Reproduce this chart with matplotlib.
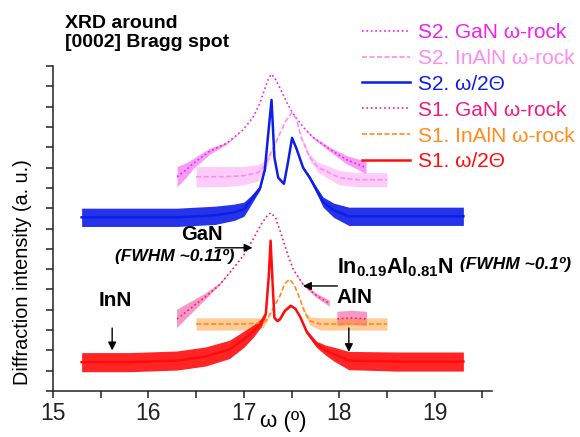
"""
XRD around the [0002] Bragg spot: omega/2theta scans and omega rocking curves
for two samples (S1, S2)
"""

import numpy as np
import matplotlib
matplotlib.use('Agg')
import matplotlib.pyplot as plt

plt.rcParams['font.family'] = ['Liberation Sans', 'DejaVu Sans']
plt.rcParams['mathtext.fontset'] = 'custom'
plt.rcParams['mathtext.rm'] = 'Liberation Sans'
plt.rcParams['mathtext.bf'] = 'Liberation Sans:bold'

# ── Data (intensity in arbitrary offset units) ──
# each trace: omega positions, mean level, half-width of the noise band

# S2  GaN omega-rock
s2_gan_x = [16.30, 16.40, 16.47, 16.64, 16.82, 16.99, 17.10, 17.17, 17.22, 17.26,
            17.29, 17.33, 17.38, 17.45, 17.51, 17.62, 17.72, 17.90, 18.07, 18.28]
s2_gan_y = [10.55, 10.90, 11.20, 11.80, 12.20, 12.85, 13.50, 14.20, 14.90, 15.40,
            15.60, 15.35, 14.90, 14.20, 13.70, 13.00, 12.50, 11.90, 11.40, 11.00]
s2_gan_n = [0.50, 0.35, 0.25, 0.15, 0.05, 0, 0, 0, 0, 0,
            0, 0, 0, 0, 0, 0, 0.05, 0.10, 0.20, 0.30]

# S2  InAlN omega-rock
s2_inaln_x = [16.50, 16.80, 17.00, 17.15, 17.22, 17.30, 17.38, 17.44, 17.50, 17.55,
              17.60, 17.69, 17.78, 17.87, 18.00, 18.20, 18.50]
s2_inaln_y = [10.55, 10.55, 10.60, 10.75, 11.10, 11.90, 12.70, 13.30, 13.70, 13.40,
              12.50, 11.50, 11.00, 10.80, 10.50, 10.40, 10.40]
s2_inaln_n = [0.50, 0.50, 0.45, 0.40, 0.25, 0.10, 0, 0, 0, 0,
              0.05, 0.15, 0.25, 0.30, 0.35, 0.35, 0.35]

# S2  omega/2theta
s2_w2t_x = [15.30, 15.80, 16.30, 16.70, 16.90, 17.00, 17.06, 17.13, 17.17, 17.22,
            17.25, 17.29, 17.32, 17.36, 17.42, 17.46, 17.505, 17.55, 17.62, 17.69,
            17.76, 17.83, 17.94, 18.10, 18.60, 19.30]
s2_w2t_y = [8.55, 8.55, 8.55, 8.65, 8.80, 8.95, 9.30, 9.75, 10.00, 10.90,
            12.40, 14.33, 11.50, 10.50, 10.20, 11.20, 12.46, 11.95, 11.00, 10.50,
            9.90, 9.30, 8.90, 8.60, 8.60, 8.60]
s2_w2t_n = [0.45, 0.45, 0.45, 0.45, 0.40, 0.35, 0.25, 0.15, 0.10, 0.05,
            0, 0, 0, 0, 0, 0, 0, 0, 0.05, 0.10,
            0.15, 0.25, 0.35, 0.45, 0.45, 0.45]

# S1  GaN omega-rock (two pieces)
s1_gan_x = [16.30, 16.45, 16.60, 16.75, 16.90, 17.00, 17.10, 17.18, 17.24, 17.28,
            17.33, 17.40, 17.46, 17.52, 17.62, 17.76, 17.90, np.nan, 17.98, 18.12, 18.29]
s1_gan_y = [3.55, 4.10, 4.65, 5.25, 6.10, 6.70, 7.50, 8.20, 8.60, 8.77,
            8.55, 7.60, 6.70, 5.96, 5.25, 4.70, 4.30, np.nan, 3.55, 3.60, 3.55]
s1_gan_n = [0.45, 0.30, 0.15, 0.05, 0, 0, 0, 0, 0, 0,
            0, 0, 0, 0, 0.05, 0.10, 0.15, np.nan, 0.35, 0.35, 0.35]

# S1  InAlN omega-rock
s1_inaln_x = [16.50, 16.80, 17.00, 17.20, 17.24, 17.31, 17.38, 17.43, 17.48, 17.53,
              17.59, 17.64, 17.69, 17.80, 18.00, 18.50]
s1_inaln_y = [3.30, 3.30, 3.30, 3.35, 3.50, 4.10, 4.70, 5.30, 5.50, 5.20,
              4.50, 3.85, 3.45, 3.30, 3.30, 3.30]
s1_inaln_n = [0.30, 0.30, 0.30, 0.25, 0.10, 0, 0, 0, 0, 0,
              0, 0.10, 0.20, 0.30, 0.30, 0.30]

# S1  omega/2theta
s1_w2t_x = [15.30, 15.80, 16.30, 16.60, 16.85, 17.00, 17.10, 17.18, 17.23, 17.26,
            17.28, 17.30, 17.32, 17.35, 17.38, 17.43, 17.49, 17.54, 17.59, 17.66,
            17.76, 17.86, 17.95, 18.10, 18.60, 19.30]
s1_w2t_y = [1.42, 1.42, 1.50, 1.70, 2.05, 2.55, 2.95, 3.35, 3.80, 5.60,
            7.40, 5.40, 3.60, 3.45, 3.55, 3.95, 4.20, 4.05, 3.65, 2.90,
            2.30, 2.00, 1.80, 1.50, 1.45, 1.45]
s1_w2t_n = [0.47, 0.47, 0.47, 0.47, 0.45, 0.40, 0.30, 0.20, 0.10, 0,
            0, 0, 0.05, 0.05, 0.05, 0.05, 0.05, 0.05, 0.05, 0.10,
            0.15, 0.25, 0.35, 0.45, 0.47, 0.47]

traces = [
    (s2_gan_x, s2_gan_y, s2_gan_n, '#f020f0', ':', 'S2. GaN ω-rock'),
    (s2_inaln_x, s2_inaln_y, s2_inaln_n, '#ff8cf0', (0, (3, 1.5)), 'S2. InAlN ω-rock'),
    (s2_w2t_x, s2_w2t_y, s2_w2t_n, '#0d1ee8', '-', 'S2. ω/2Θ'),
    (s1_gan_x, s1_gan_y, s1_gan_n, '#f01a82', ':', 'S1. GaN ω-rock'),
    (s1_inaln_x, s1_inaln_y, s1_inaln_n, '#ff8c1a', (0, (3, 1.5)), 'S1. InAlN ω-rock'),
    (s1_w2t_x, s1_w2t_y, s1_w2t_n, '#ff0d0d', '-', 'S1. ω/2Θ'),
]

fig = plt.figure(figsize=(5.8, 4.37), dpi=100)
ax = fig.add_axes([53 / 580, 46 / 437, 439 / 580, 325 / 437])

handles = []
for x, y, n, col, ls, lab in traces:
    x = np.array(x, dtype=float)
    y = np.array(y, dtype=float)
    n = np.array(n, dtype=float)
    solid = ls == '-'
    ax.fill_between(x, y - n, y + n, color=col, lw=0,
                    alpha=0.9 if solid else 0.45)
    h, = ax.plot(x, y, color=col, ls=ls, lw=1.8 if solid else 1.2, label=lab)
    handles.append(h)

ax.set_xlim(15, 19.6)
ax.set_ylim(0, 16)
ax.set_xticks([15, 16, 17, 18, 19])
ax.set_xticks(np.arange(15.5, 19.6, 1.0), minor=True)
ax.set_yticks(np.arange(0, 17, 1))
ax.set_yticklabels([])
ax.tick_params(axis='both', which='both', direction='out', length=5, width=1.1,
               colors='#222222')
ax.tick_params(axis='x', labelsize=16.5, pad=3)
for s in ['top', 'right']:
    ax.spines[s].set_visible(False)
for s in ['left', 'bottom']:
    ax.spines[s].set_linewidth(1.1)
    ax.spines[s].set_color('#222222')

fig.text(23 / 580, 1 - 272 / 437, 'Diffraction intensity (a. u.)', fontsize=14.3,
         rotation=90, ha='center', va='center')
ax.set_xlabel('ω (º)', fontsize=16)
ax.xaxis.set_label_coords(0.524, -0.062)

fig.text(65 / 580, 1 - 15 / 437, 'XRD around\n[0002] Bragg spot', fontsize=14,
         fontweight='bold', va='top', ha='left', linespacing=1.15)

leg = fig.legend(handles=handles, loc='upper left',
                 bbox_to_anchor=(362 / 580, 1 - 23 / 437), frameon=False,
                 fontsize=15, handlelength=2.3, handletextpad=0.4,
                 labelspacing=0.33, borderpad=0, borderaxespad=0,
                 labelcolor='linecolor')

# ── Annotations ───────────────────────────────────────────────
arrow = dict(arrowstyle='-|>', color='black', lw=1.0, mutation_scale=12,
             shrinkA=0, shrinkB=0)

ax.text(16.56, 7.68, 'GaN', fontsize=14.5, fontweight='bold', ha='center', va='center')
ax.text(16.28, 6.6, '(FWHM ~0.11º)', fontsize=12.5, fontweight='bold',
        style='italic', ha='center', va='center')
ax.annotate('', xy=(17.09, 7.05), xytext=(16.70, 7.05), arrowprops=arrow)

ax.text(15.65, 4.48, 'InN', fontsize=15, fontweight='bold', ha='center', va='center')
ax.annotate('', xy=(15.62, 2.0), xytext=(15.62, 3.1), arrowprops=arrow)

inaln = ax.text(17.98, 6.1, r'$\mathbf{In_{0.19}Al_{0.81}N}$', fontsize=15.5,
                ha='left', va='center')
ax.annotate('(FWHM ~0.1º)', xy=(1.0, 0.62), xycoords=inaln, xytext=(4, 0),
            textcoords='offset points', fontsize=12.5, fontweight='bold',
            style='italic', ha='left', va='center', annotation_clip=False)
ax.annotate('', xy=(17.62, 5.17), xytext=(17.98, 5.17), arrowprops=arrow)

ax.text(17.97, 4.58, 'AlN', fontsize=15, fontweight='bold', ha='left', va='center')
ax.annotate('', xy=(18.1, 1.92), xytext=(18.1, 3.1), arrowprops=arrow)

plt.savefig('out.png', dpi=100)
plt.close()
